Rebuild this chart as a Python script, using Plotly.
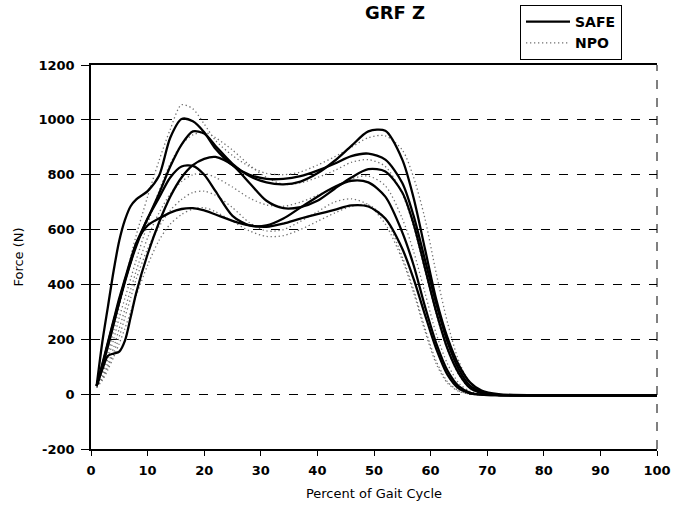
import plotly.graph_objects as go

# Percent of gait cycle at which each trial was sampled
pct = [1, 2, 3, 4, 5, 6, 7, 8, 10, 12, 14, 16, 18, 20, 22, 25, 28, 31, 34, 37,
       40, 43, 46, 49, 52, 55, 57, 59, 61, 63, 65, 67, 69, 72, 80, 100]

# Vertical ground reaction force (N), SAFE trials
safe_a = [30, 190, 320, 450, 560, 635, 685, 710, 740, 795, 935, 1003, 995, 955, 895, 835, 800, 785, 785, 795,
          815, 840, 868, 877, 855, 770, 650, 490, 330, 190, 90, 30, 8, -3, -5, -5]
safe_b = [30, 110, 190, 270, 350, 420, 490, 550, 640, 730, 830, 910, 958, 950, 905, 840, 795, 772, 765, 775,
          805, 850, 905, 958, 960, 855, 715, 530, 345, 205, 105, 42, 13, 0, -5, -5]
safe_c = [30, 90, 140, 148, 155, 195, 280, 370, 510, 625, 720, 790, 835, 858, 865, 835, 770, 705, 678, 682,
          705, 748, 790, 820, 812, 735, 620, 460, 300, 165, 75, 22, 4, -3, -5, -5]
safe_d = [30, 105, 185, 265, 340, 415, 480, 540, 640, 715, 790, 830, 832, 800, 740, 650, 615, 615, 640, 680,
          720, 755, 778, 772, 720, 590, 470, 320, 185, 85, 28, 5, -2, -4, -5, -5]
safe_e = [30, 100, 175, 255, 335, 410, 480, 550, 615, 640, 662, 675, 678, 670, 655, 632, 615, 610, 622, 640,
          656, 672, 688, 684, 640, 530, 420, 290, 165, 70, 20, 3, -2, -4, -5, -5]

# Vertical ground reaction force (N), NPO trials
npo_1 = [25, 80, 150, 230, 320, 410, 500, 580, 720, 850, 965, 1055, 1040, 985, 925, 870, 830, 805, 800, 810,
         835, 865, 900, 935, 942, 890, 790, 640, 440, 260, 120, 40, 10, -2, -5, -5]
npo_2 = [25, 70, 130, 200, 280, 350, 420, 490, 620, 740, 840, 910, 945, 955, 935, 890, 835, 790, 765, 770,
         790, 815, 845, 855, 830, 730, 610, 450, 290, 160, 70, 20, 3, -3, -5, -5]
npo_3 = [25, 60, 110, 170, 240, 310, 380, 450, 570, 660, 730, 775, 800, 805, 790, 755, 715, 690, 685, 700,
         725, 755, 785, 795, 760, 640, 520, 370, 220, 110, 40, 10, 0, -3, -5, -5]
npo_4 = [25, 55, 100, 150, 210, 280, 350, 420, 530, 610, 670, 710, 735, 740, 725, 680, 625, 595, 600, 630,
         665, 700, 712, 690, 620, 490, 370, 230, 110, 40, 10, 0, -3, -4, -5, -5]
npo_5 = [25, 50, 90, 135, 185, 240, 300, 360, 470, 560, 620, 655, 675, 680, 665, 630, 595, 575, 578, 600,
         630, 660, 685, 690, 640, 500, 380, 240, 120, 45, 12, 0, -3, -4, -5, -5]

x_ticks = [0, 10, 20, 30, 40, 50, 60, 70, 80, 90, 100]
y_ticks = [-200, 0, 200, 400, 600, 800, 1000, 1200]
y_tick_labels = ["-200", "0", "200", "400", "600", "800", "1000", "1200"]

safe_trials = [safe_a, safe_b, safe_c, safe_d, safe_e]
npo_trials = [npo_1, npo_2, npo_3, npo_4, npo_5]

FONT = "DejaVu Sans"

fig = go.Figure()

for i, trial in enumerate(npo_trials):
    fig.add_trace(go.Scatter(
        x=pct, y=trial, mode="lines", name="NPO", legendgroup="npo",
        showlegend=(i == 0), legendrank=2,
        line=dict(color="#707070", width=1.3, dash="1.3px,2.7px", shape="spline", smoothing=0.8),
        hoverinfo="skip",
    ))

for i, trial in enumerate(safe_trials):
    fig.add_trace(go.Scatter(
        x=pct, y=trial, mode="lines", name="SAFE", legendgroup="safe",
        showlegend=(i == 0), legendrank=1,
        line=dict(color="black", width=2.3, shape="spline", smoothing=0.8),
        hoverinfo="skip",
    ))

fig.update_layout(
    template="none",
    width=676, height=509,
    margin=dict(l=91, r=19, t=65, b=60, autoexpand=False),
    paper_bgcolor="white", plot_bgcolor="white",
    title=dict(text="<b>GRF Z</b>", x=395 / 676, xanchor="center",
               y=1 - 13 / 509, yanchor="middle",
               font=dict(family=FONT, size=18, color="black")),
    legend=dict(x=(520 - 91) / 566, y=(449 - 5) / 384, xanchor="left", yanchor="top",
                bgcolor="white", bordercolor="black", borderwidth=1,
                font=dict(family=FONT, size=14, color="black", weight="bold"),
                itemwidth=44, tracegroupgap=0),
    xaxis=dict(range=[0, 100], tickvals=x_ticks, ticks="outside", ticklen=5,
               tickcolor="black", showline=True, linecolor="black", linewidth=1.5,
               mirror=True, showgrid=False, zeroline=False, automargin=False,
               ticklabelstandoff=4,
               tickfont=dict(family=FONT, size=13, color="black", weight="bold"),
               title=dict(text="Percent of Gait Cycle", standoff=12,
                          font=dict(family=FONT, size=13, color="black"))),
    yaxis=dict(range=[-200, 1200], tickvals=y_ticks, ticktext=y_tick_labels,
               ticks="outside", ticklen=8,
               tickcolor="black", showline=True, linecolor="black", linewidth=1.5,
               showgrid=True, gridcolor="black", gridwidth=1, griddash="dash",
               zeroline=False, automargin=False, ticklabelstandoff=4,
               tickfont=dict(family=FONT, size=13, color="black", weight="bold"),
               title=dict(text="Force (N)", standoff=12,
                          font=dict(family=FONT, size=13, color="black"))),
    shapes=[dict(type="line", xref="paper", yref="paper", x0=1, x1=1, y0=0, y1=1,
                 line=dict(color="black", width=1, dash="dash"))],
)

fig.write_html("out.html")
